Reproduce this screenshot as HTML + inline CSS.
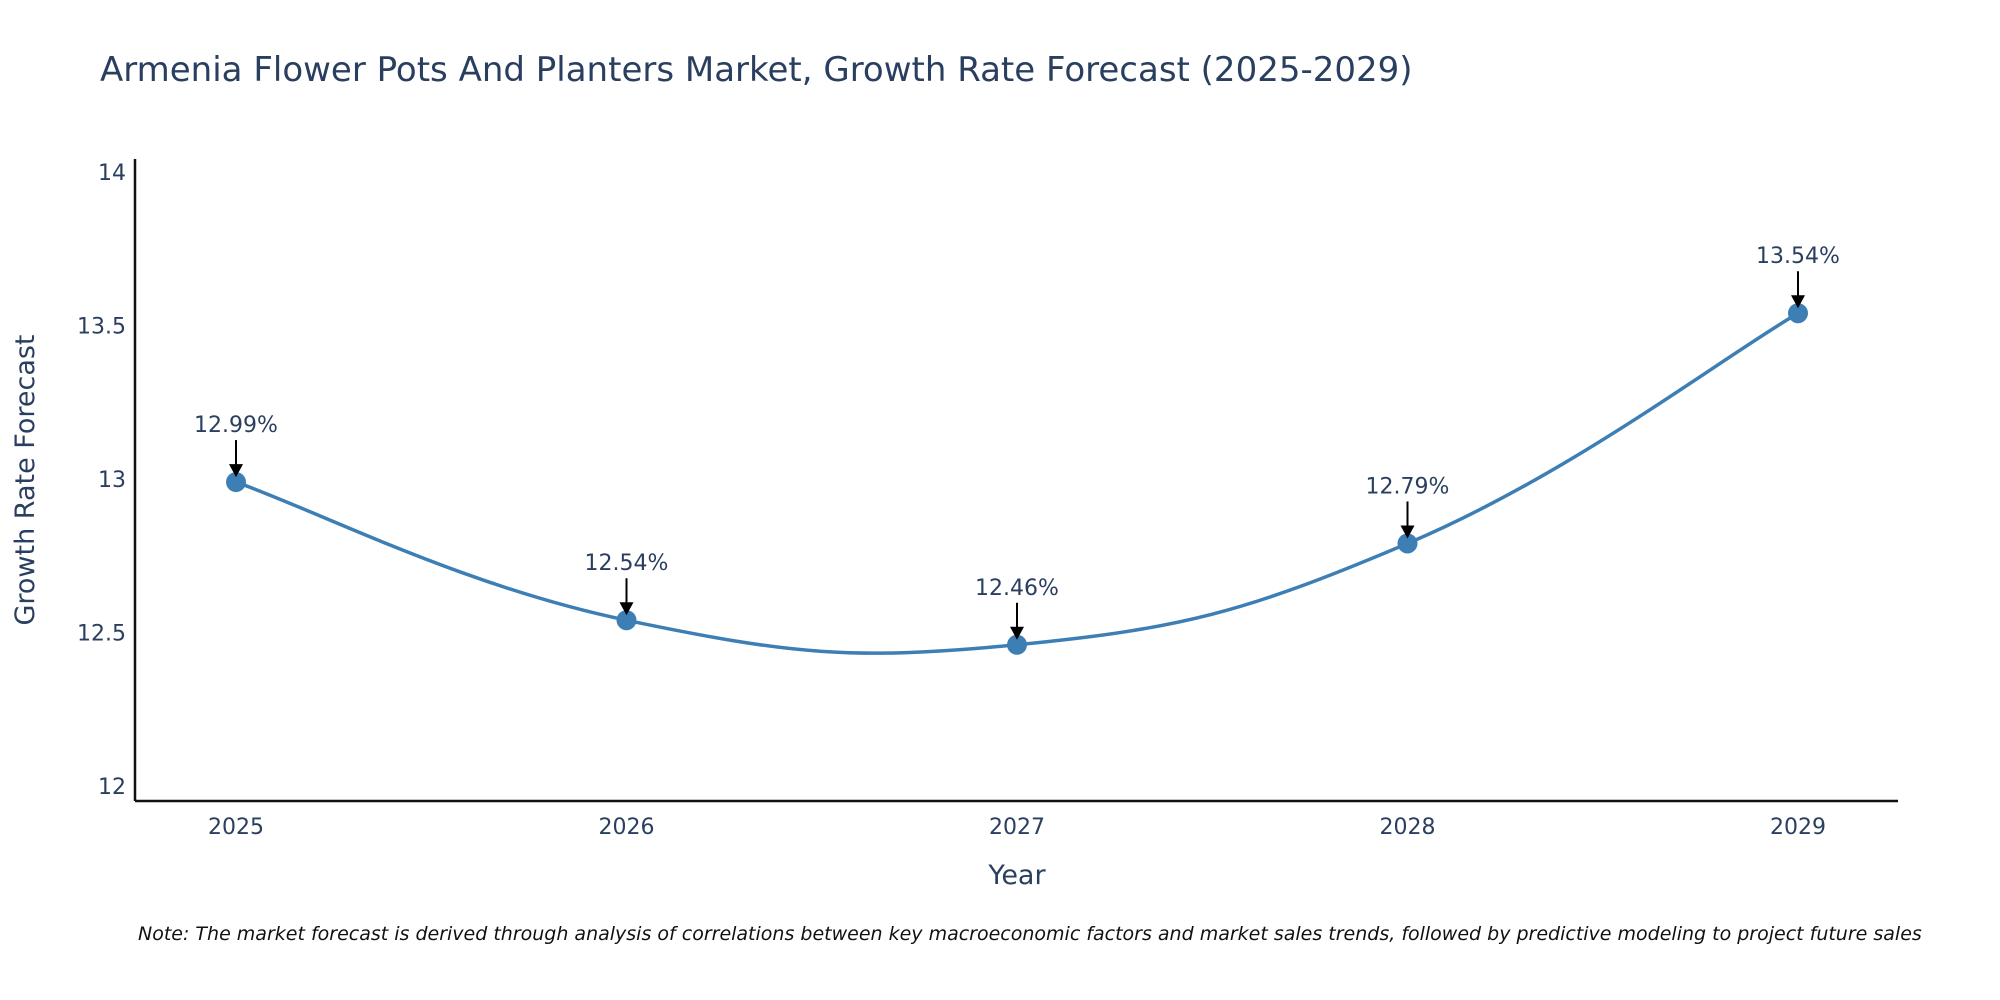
<!DOCTYPE html>
<html><head><meta charset="utf-8"><style>
body{margin:0;background:#fff;}
svg{display:block;font-family:"DejaVu Sans","Liberation Sans",sans-serif;}
</style></head><body>
<svg id="chart" width="2000" height="1000" viewBox="0 0 2000 1000">
<text x="100" y="81" font-size="34" fill="#2a3f5f">Armenia Flower Pots And Planters Market, Growth Rate Forecast (2025-2029)</text>
<g id="axes"></g>
<g id="plot"></g>
<text x="1017" y="884" font-size="27" fill="#2a3f5f" text-anchor="middle">Year</text>
<text transform="translate(34,480) rotate(-90)" font-size="27" fill="#2a3f5f" text-anchor="middle">Growth Rate Forecast</text>
<text x="138" y="940" font-size="19" font-style="italic" fill="#111">Note: The market forecast is derived through analysis of correlations between key macroeconomic factors and market sales trends, followed by predictive modeling to project future sales</text>
</svg>
<script>
const years = [2025, 2026, 2027, 2028, 2029];
const growth = [12.99, 12.54, 12.46, 12.79, 13.54];
const yTicks = [12, 12.5, 13, 13.5, 14];
const yTickLabels = ["12", "12.5", "13", "13.5", "14"];

const NS = "http://www.w3.org/2000/svg";
const X0 = 135, X1 = 1898, YT = 159, YB = 801;
function xs(v){ return 236 + (v - 2025) * (1798 - 236) / 4; }
function ys(v){ return 786 - (v - 12) * (786 - 172) / 2; }
function mk(tag, attrs, parent){ const e = document.createElementNS(NS, tag); for (const k in attrs) e.setAttribute(k, attrs[k]); parent.appendChild(e); return e; }

const axes = document.getElementById('axes');
const plot = document.getElementById('plot');
let l = mk('line', {x1:X0, y1:YT, x2:X0, y2:YB, stroke:'#111', 'stroke-width':2.5}, axes);


l = mk('line', {x1:X0, y1:YB, x2:X1, y2:YB, stroke:'#111', 'stroke-width':2.5}, axes);


yTicks.forEach((t, i) => {
  const e = mk('text', {x:X0 - 9, y:ys(t) + 8, 'font-size':22, fill:'#2a3f5f', 'text-anchor':'end'}, axes);
  e.textContent = yTickLabels[i];
  
  
});
years.forEach(y => {
  const e = mk('text', {x:xs(y), y:834, 'font-size':22, fill:'#2a3f5f', 'text-anchor':'middle'}, axes);
  e.textContent = String(y);
  
  
});

const pts = years.map((y, i) => [xs(y), ys(growth[i])]);
const tension = 0.42;
let d = `M${pts[0][0]},${pts[0][1]}`;
for (let i = 0; i < pts.length - 1; i++) {
  const p0 = pts[Math.max(0, i - 1)], p1 = pts[i], p2 = pts[i + 1], p3 = pts[Math.min(pts.length - 1, i + 2)];
  const c1 = [p1[0] + (p2[0] - p0[0]) * tension / 2, p1[1] + (p2[1] - p0[1]) * tension / 2];
  const c2 = [p2[0] - (p3[0] - p1[0]) * tension / 2, p2[1] - (p3[1] - p1[1]) * tension / 2];
  d += ` C${c1[0]},${c1[1]} ${c2[0]},${c2[1]} ${p2[0]},${p2[1]}`;
}
const path = mk('path', {d:d, fill:'none', stroke:'#3d7fb5', 'stroke-width':3.5}, plot);



pts.forEach((p, i) => {
  const c = mk('circle', {cx:p[0], cy:p[1], r:10, fill:'#3d7fb5'}, plot);
  
  
  const a = mk('line', {x1:p[0], y1:p[1] - 42, x2:p[0], y2:p[1] - 16, stroke:'#000', 'stroke-width':2}, plot);
  
  
  const h = mk('polygon', {points:`${p[0]-7},${p[1]-18} ${p[0]+7},${p[1]-18} ${p[0]},${p[1]-5}`, fill:'#000'}, plot);
  
  
  const t = mk('text', {x:p[0], y:p[1] - 50, 'font-size':22, fill:'#2a3f5f', 'text-anchor':'middle'}, plot);
  t.textContent = growth[i].toFixed(2) + '%';
  
  
});
</script>
</body></html>
